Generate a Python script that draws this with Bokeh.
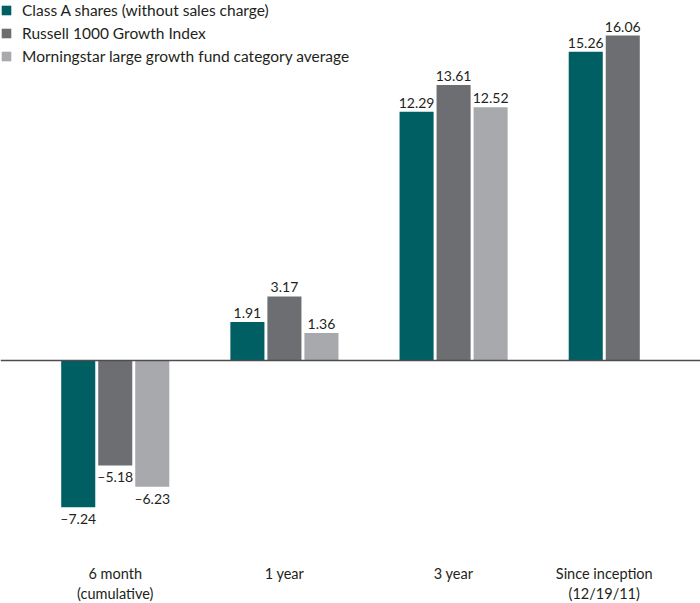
from bokeh.plotting import figure
from bokeh.models import ColumnDataSource, FactorRange, Range1d, Span, Legend, LegendItem
from bokeh.core.properties import value
from bokeh.embed import file_html
from bokeh.resources import INLINE

periods = ["6 month", "1 year", "3 year", "Since inception"]
period_labels = ["6 month\n(cumulative)", "1 year", "3 year", "Since inception\n(12/19/11)"]
series = ["Class A shares (without sales charge)", "Russell 1000 Growth Index",
          "Morningstar large growth fund category average"]
keys = ["A", "R", "M"]
colors = ["#005F63", "#6D6E71", "#A7A9AC"]
class_a = [-7.24, 1.91, 12.29, 15.26]
russell = [-5.18, 3.17, 13.61, 16.06]
morningstar = [-6.23, 1.36, 12.52, None]
values = [class_a, russell, morningstar]

FONT = "Lato"

factors = []
for i, per in enumerate(periods):
    for k, vals in zip(keys, values):
        if vals[i] is not None:
            factors.append((per, k))

x_range = FactorRange(*factors, group_padding=1.57, range_padding=1.6,
                      range_padding_units="absolute")
p = figure(width=700, height=603, x_range=x_range, y_range=Range1d(-12.0, 17.79),
           output_backend="svg", toolbar_location=None, min_border=0)
p.axis.visible = False
p.grid.visible = False
p.outline_line_color = None
p.background_fill_color = "white"

renderers = []
for s_idx, (k, vals, col) in enumerate(zip(keys, values, colors)):
    xs, ys, labels = [], [], []
    for i, per in enumerate(periods):
        v = vals[i]
        if v is None:
            continue
        xs.append((per, k))
        ys.append(v)
        labels.append(("%.2f" % v).replace("-", "\u2013"))
    src = ColumnDataSource(dict(x=xs, top=ys, label=labels))
    r = p.vbar(x="x", top="top", bottom=0, width=0.92, source=src, fill_color=col,
               line_color=None)
    renderers.append(r)
    pos = ColumnDataSource(dict(x=[x for x, y in zip(xs, ys) if y >= 0],
                                y=[y for y in ys if y >= 0],
                                t=[l for l, y in zip(labels, ys) if y >= 0]))
    neg = ColumnDataSource(dict(x=[x for x, y in zip(xs, ys) if y < 0],
                                y=[y for y in ys if y < 0],
                                t=[l for l, y in zip(labels, ys) if y < 0]))
    p.text(x="x", y="y", text="t", source=pos, text_align="center",
           text_baseline="bottom", y_offset=-4, text_font=value(FONT),
           text_font_size="14px", text_color="#231F20")
    p.text(x="x", y="y", text="t", source=neg, text_align="center",
           text_baseline="top", y_offset=3, text_font=value(FONT),
           text_font_size="14px", text_color="#231F20")

p.add_layout(Span(location=0, dimension="width", line_color="#4D4D4F", line_width=1.5))

cat_src = ColumnDataSource(dict(x=periods, t=period_labels, y=[-10.1] * len(periods)))
p.text(x="x", y="y", text="t", source=cat_src, text_align="center",
       text_baseline="top", text_font=value(FONT), text_font_size="14.5px",
       text_color="#231F20", text_line_height=1.2)

legend = Legend(items=[LegendItem(label=s, renderers=[r]) for s, r in zip(series, renderers)],
                location="top_left", margin=0, padding=1, border_line_color=None,
                background_fill_alpha=0, glyph_width=12, glyph_height=12,
                label_standoff=10, spacing=4, label_height=19,
                label_text_font=FONT, label_text_font_size="15.5px",
                label_text_color="#231F20")
p.add_layout(legend)

open("out.html", "w").write(file_html(p, INLINE))
